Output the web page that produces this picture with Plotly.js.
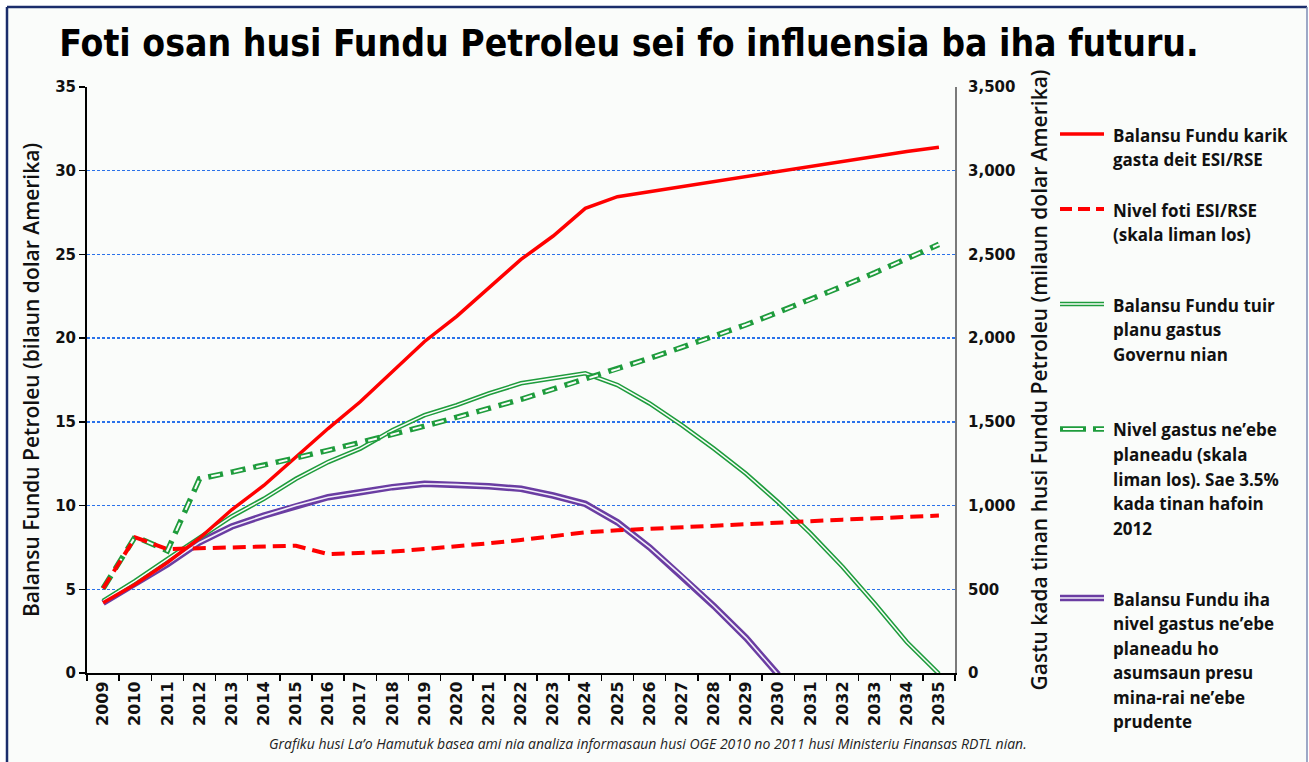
<!DOCTYPE html>
<html>
<head>
<meta charset="utf-8">
<script src="https://cdn.plot.ly/plotly-3.0.1.min.js"></script>
<style>
html,body{margin:0;padding:0;background:#ffffff;}
#chart{width:1309px;height:762px;}
</style>
</head>
<body>
<div id="chart"></div>
<script>
// ---------------- DATA ----------------
const years = ['2009','2010','2011','2012','2013','2014','2015','2016','2017','2018','2019','2020','2021','2022','2023','2024','2025','2026','2027','2028','2029','2030','2031','2032','2033','2034','2035'];

// Left axis (billion USD): fund balance
const balanceEsiOnly = [4.2,5.3,6.6,8.05,9.75,11.2,12.9,14.6,16.2,18.0,19.8,21.3,23.0,24.7,26.1,27.75,28.45,28.75,29.05,29.35,29.65,29.95,30.25,30.55,30.85,31.15,31.4];
const balanceGovPlan = [4.3,5.5,6.8,8.1,9.35,10.4,11.6,12.6,13.4,14.5,15.4,16.0,16.7,17.3,17.6,17.9,17.2,16.1,14.8,13.4,11.9,10.2,8.35,6.35,4.15,1.85,-0.05];
const balancePrudentOil = [4.2,5.3,6.5,7.8,8.75,9.4,10.0,10.5,10.8,11.1,11.3,11.25,11.15,11.0,10.6,10.1,9.0,7.5,5.8,4.0,2.1,-0.1,null,null,null,null,null];

// Right axis (million USD): yearly withdrawals
const esiLevel = [505,810,740,745,750,755,760,710,715,725,740,755,775,795,815,840,852,862,872,882,892,900,908,916,924,932,940];
const plannedSpending = [505,815,730,1160,1200,1240,1285,1330,1375,1425,1475,1525,1580,1635,1695,1755,1815,1880,1945,2010,2080,2155,2230,2310,2390,2475,2560];

// Text
const chartTitle = 'Foti osan husi Fundu Petroleu sei fo influensia ba iha futuru.';
const leftAxisTitle = 'Balansu Fundu Petroleu (bilaun dolar Amerika)';
const rightAxisTitle = 'Gastu kada tinan husi Fundu Petroleu (milaun dolar Amerika)';
const caption = 'Grafiku husi La\u2019o Hamutuk basea ami nia analiza informasaun husi OGE 2010 no 2011 husi Ministeriu Finansas RDTL nian.';
const legendLabels = [
  ['Balansu Fundu karik', 'gasta deit ESI/RSE'],
  ['Nivel foti ESI/RSE', '(skala liman los)'],
  ['Balansu Fundu tuir', 'planu gastus', 'Governu nian'],
  ['Nivel gastus ne\u2019ebe', 'planeadu (skala', 'liman los). Sae 3.5%', 'kada tinan hafoin', '2012'],
  ['Balansu Fundu iha', 'nivel gastus ne\u2019ebe', 'planeadu ho', 'asumsaun presu', 'mina-rai ne\u2019ebe', 'prudente']
];

// ---------------- STYLE / LAYOUT ----------------
const RED = '#ff0000';
const GREEN = '#1e9c3c';
const PURPLE = '#6a3da2';
const BG = '#fafcfa';

const W = 1309, H = 762;
const L = 87, R = 955, T = 87, B = 673;
const px = x => (x - L) / (R - L);
const py = y => (B - y) / (B - T);

const traces = [
  {x: years, y: balancePrudentOil, type: 'scatter', mode: 'lines', line: {color: PURPLE, width: 6.5}, hoverinfo: 'skip'},
  {x: years, y: balancePrudentOil, type: 'scatter', mode: 'lines', line: {color: '#f3effa', width: 1.6}, hoverinfo: 'skip'},
  {x: years, y: balanceGovPlan, type: 'scatter', mode: 'lines', line: {color: GREEN, width: 4.6}, hoverinfo: 'skip'},
  {x: years, y: balanceGovPlan, type: 'scatter', mode: 'lines', line: {color: BG, width: 1.5}, hoverinfo: 'skip'},
  {x: years, y: balanceEsiOnly, type: 'scatter', mode: 'lines', line: {color: RED, width: 3.5}, hoverinfo: 'skip'},
  {x: years, y: plannedSpending, yaxis: 'y2', type: 'scatter', mode: 'lines', line: {color: GREEN, width: 5.5, dash: '15px,8px'}, hoverinfo: 'skip'},
  {x: years, y: plannedSpending, yaxis: 'y2', type: 'scatter', mode: 'lines', line: {color: BG, width: 2, dash: '0px,3px,9px,11px'}, hoverinfo: 'skip'},
  {x: years, y: esiLevel, yaxis: 'y2', type: 'scatter', mode: 'lines', line: {color: RED, width: 4, dash: '13px,7px'}, hoverinfo: 'skip'}
];

const shapes = [];
const annotations = [];

// background panel + frame
shapes.push({type: 'rect', xref: 'paper', yref: 'paper', x0: px(7), x1: px(1307), y0: py(800), y1: py(7), fillcolor: BG, line: {width: 0}, layer: 'below'});
shapes.push({type: 'line', xref: 'paper', yref: 'paper', x0: px(7), x1: px(7), y0: py(800), y1: py(7), line: {color: '#1b2d6b', width: 2.5}});
shapes.push({type: 'line', xref: 'paper', yref: 'paper', x0: px(7), x1: px(1307), y0: py(7), y1: py(7), line: {color: '#1b2d6b', width: 2.5}});
shapes.push({type: 'line', xref: 'paper', yref: 'paper', x0: px(1307), x1: px(1307), y0: py(800), y1: py(7), line: {color: '#7d8db5', width: 1.5}});

// custom legend
const legFirstY = [135, 210, 305, 430, 599];
const lineGap = 24.5;
const symX0 = 1060, symX1 = 1104, textX = 1111;
const symbolStyles = [
  [{color: RED, width: 3.5}],
  [{color: RED, width: 4, dash: '12px,6px'}],
  [{color: GREEN, width: 4.6}, {color: BG, width: 1.5}],
  [{color: GREEN, width: 5.5, dash: '26px,7px'}, {color: BG, width: 2, dash: '0px,3px,20px,10px'}],
  [{color: PURPLE, width: 6.5}, {color: '#f3effa', width: 1.6}]
];
legendLabels.forEach((lines, i) => {
  const yy = py(legFirstY[i] - 1);
  symbolStyles[i].forEach(st => {
    shapes.push({type: 'line', xref: 'paper', yref: 'paper', x0: px(symX0), x1: px(symX1), y0: yy, y1: yy, line: st});
  });
  lines.forEach((t, k) => {
    annotations.push({xref: 'paper', yref: 'paper', x: px(textX), y: py(legFirstY[i] + k * lineGap), xanchor: 'left', yanchor: 'middle',
      text: t, showarrow: false, font: {family: 'Open Sans, sans-serif', size: 17, weight: 700, color: '#111111'}});
  });
});

annotations.push({xref: 'paper', yref: 'paper', x: px(648), y: py(743), xanchor: 'center', yanchor: 'middle',
  text: caption, showarrow: false, font: {family: 'Open Sans, sans-serif', size: 14, style: 'italic', color: '#222222'}});

const tickFont = {family: 'DejaVu Sans, sans-serif', size: 15, weight: 700, color: '#111111'};
const axisTitleFont = {family: 'Open Sans, sans-serif', size: 21, weight: 600, color: '#111111'};

const layout = {
  width: W, height: H,
  paper_bgcolor: '#ffffff',
  plot_bgcolor: 'rgba(0,0,0,0)',
  margin: {l: L, r: W - R, t: T, b: H - B, pad: 0},
  showlegend: false,
  title: {
    text: chartTitle,
    xref: 'container', yref: 'container', x: 629 / W, y: 1 - 43 / H, xanchor: 'center', yanchor: 'middle',
    font: {family: 'DejaVu Sans Condensed, sans-serif', size: 37, weight: 700, color: '#000000'}
  },
  xaxis: {
    type: 'category', range: [-0.5, 26.5], tickangle: -90, ticks: 'outside', tickson: 'boundaries', ticklen: 6,
    tickcolor: '#000000', tickwidth: 1.5, showline: true, linecolor: '#000000', linewidth: 2, showgrid: false,
    tickfont: {family: 'DejaVu Sans, sans-serif', size: 16, weight: 700, color: '#111111'}, fixedrange: true
  },
  yaxis: {
    range: [0, 35], dtick: 5, tick0: 0, ticks: 'outside', ticklen: 6, tickcolor: '#000000', tickwidth: 1.5,
    showline: true, linecolor: '#000000', linewidth: 2, zeroline: false,
    showgrid: true, gridcolor: '#2a72ea', gridwidth: 1.3, griddash: '3px,2px',
    tickfont: tickFont,
    title: {text: leftAxisTitle, font: axisTitleFont, standoff: 10}, fixedrange: true
  },
  yaxis2: {
    overlaying: 'y', side: 'right', range: [0, 3500], dtick: 500, tick0: 0, tickformat: ',d',
    showline: true, linecolor: '#7a7a7a', linewidth: 2, ticks: 'outside', ticklen: 8, tickcolor: 'rgba(0,0,0,0)', showgrid: false, zeroline: false,
    tickfont: tickFont,
    title: {text: rightAxisTitle, font: axisTitleFont, standoff: 18}, fixedrange: true
  },
  shapes: shapes,
  annotations: annotations
};

Plotly.newPlot('chart', traces, layout, {staticPlot: true, displayModeBar: false});
</script>
</body>
</html>
